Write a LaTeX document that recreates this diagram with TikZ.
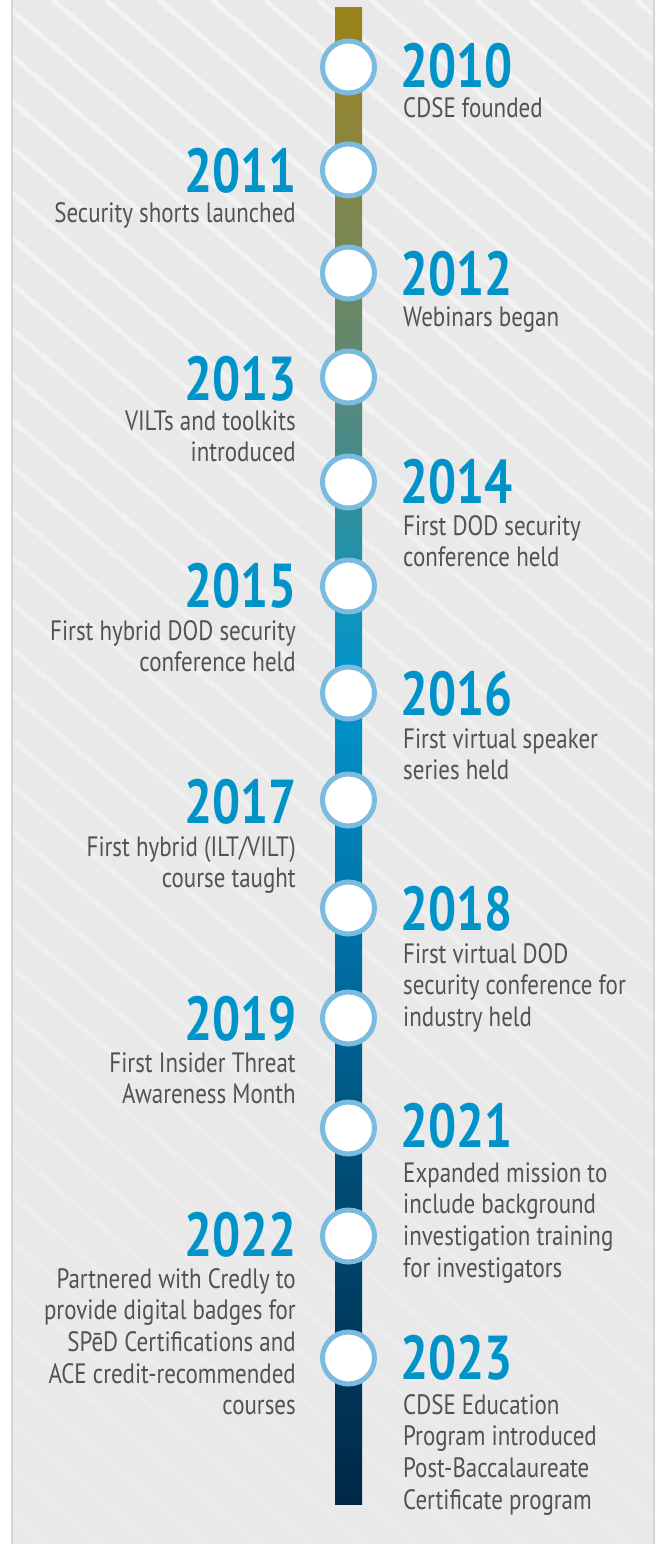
\documentclass[tikz,border=0pt]{standalone}
\usepackage{fontspec}
\setmainfont{PT Sans}[FakeStretch=0.82]
\newfontfamily\yearfont{PT Sans}[FakeStretch=0.8]
\usetikzlibrary{fadings}
\definecolor{panelbg}{RGB}{233,233,233}
\definecolor{paneledge}{RGB}{214,214,214}
\definecolor{ring}{RGB}{124,187,224}
\definecolor{yearblue}{RGB}{0,147,201}
\definecolor{desctext}{RGB}{82,82,84}
\definecolor{bA}{RGB}{154,132,24}
\definecolor{bB}{RGB}{138,134,66}
\definecolor{bC}{RGB}{88,136,122}
\definecolor{bD}{RGB}{35,145,168}
\definecolor{bE}{RGB}{0,150,204}
\definecolor{bF}{RGB}{0,118,172}
\definecolor{bG}{RGB}{0,78,120}
\definecolor{bH}{RGB}{0,40,70}
\pgfdeclareverticalshading{barshade}{100bp}{color(0bp)=(bH); color(25bp)=(bH); color(36.5bp)=(bG); color(45bp)=(bF); color(52.5bp)=(bE); color(57bp)=(bD); color(62bp)=(bC); color(70bp)=(bB); color(75bp)=(bA); color(100bp)=(bA)}
\tikzfading[name=stripefade, top color=transparent!100, bottom color=transparent!20]
\tikzset{
  dot/.style={circle, draw=ring, line width=5pt, fill=white, minimum size=52pt, inner sep=0pt},
  yearR/.style={anchor=base west, inner sep=0pt, text=yearblue, font=\yearfont\fontsize{62}{62}\selectfont\bfseries},
  yearL/.style={anchor=base east, inner sep=0pt, text=yearblue, font=\yearfont\fontsize{62}{62}\selectfont\bfseries},
  descR/.style={anchor=base west, inner sep=0pt, text=desctext, align=left, font=\fontsize{28}{31.7}\selectfont},
  descL/.style={anchor=base east, inner sep=0pt, text=desctext, align=right, font=\fontsize{28}{31.7}\selectfont},
  stripe/.style={white, opacity=0.5, line width=5pt}
}
\begin{document}
\begin{tikzpicture}[x=1pt,y=1pt]
\useasboundingbox (0,0) rectangle (657,-1544);
\fill[white] (0,0) rectangle (657,-1544);
\fill[panelbg] (11,0) rectangle (655,-1544);
\begin{scope}
  \clip (11,0) rectangle (655,-1544);
  \foreach \i in {-36,...,14} { \draw[stripe] (\i*53,0) -- ++(1800,-1548); }
\end{scope}
\fill[panelbg, path fading=stripefade] (11,0) rectangle (655,-1544);
\draw[paneledge, line width=2pt] (12,0) -- (12,-1544);
\draw[paneledge, line width=2pt] (654,0) -- (654,-1544);
% bar
\coordinate (bartop) at (335,-8);
\coordinate (barbot) at (362,-1504);
\shade[shading=barshade] (bartop) rectangle (barbot);
% events (description nodes: base = baseline of the last line)
\node[dot] (c2010) at (348.5,-67) {};
\node[yearR] (y2010) at (400,-88) {2010};
\node[descR] (d2010) at (403,-118) {CDSE founded};

\node[dot] (c2011) at (348.5,-170) {};
\node[yearL] (y2011) at (297,-192) {2011};
\node[descL] (d2011) at (296,-222) {Security shorts launched};

\node[dot] (c2012) at (348.5,-273) {};
\node[yearR] (y2012) at (400,-295) {2012};
\node[descR] (d2012) at (403,-326) {Webinars began};

\node[dot] (c2013) at (348.5,-377) {};
\node[yearL] (y2013) at (297,-400) {2013};
\node[descL] (d2013) at (296,-461.7) {VILTs and toolkits\\introduced};

\node[dot] (c2014) at (348.5,-482) {};
\node[yearR] (y2014) at (400,-503) {2014};
\node[descR] (d2014) at (403,-566.7) {First DOD security\\conference held};

\node[dot] (c2015) at (348.5,-586) {};
\node[yearL] (y2015) at (297,-607) {2015};
\node[descL] (d2015) at (296,-671.7) {First hybrid DOD security\\conference held};

\node[dot] (c2016) at (348.5,-693) {};
\node[yearR] (y2016) at (400,-715) {2016};
\node[descR] (d2016) at (403,-779.7) {First virtual speaker\\series held};

\node[dot] (c2017) at (348.5,-800) {};
\node[yearL] (y2017) at (297,-823) {2017};
\node[descL] (d2017) at (296,-887.7) {First hybrid (ILT/VILT)\\course taught};

\node[dot] (c2018) at (348.5,-908) {};
\node[yearR] (y2018) at (400,-930) {2018};
\node[descR] (d2018) at (403,-1026.4) {First virtual DOD\\security conference for\\industry held};

\node[dot] (c2019) at (348.5,-1018) {};
\node[yearL] (y2019) at (297,-1040) {2019};
\node[descL] (d2019) at (296,-1103.7) {First Insider Threat\\Awareness Month};

\node[dot] (c2021) at (348.5,-1128) {};
\node[yearR] (y2021) at (400,-1147) {2021};
\node[descR] (d2021) at (403,-1277.1) {Expanded mission to\\include background\\investigation training\\for investigators};

\node[dot] (c2022) at (348.5,-1236) {};
\node[yearL] (y2022) at (297,-1256) {2022};
\node[descL] (d2022) at (296,-1414.8) {Partnered with Credly to\\provide digital badges for\\SPēD Certifications and\\ACE credit-recommended\\courses};

\node[dot] (c2023) at (348.5,-1358) {};
\node[yearR] (y2023) at (400,-1379) {2023};
\node[descR] (d2023) at (403,-1509.1) {CDSE Education\\Program introduced\\Post-Baccalaureate\\Certificate program};
\end{tikzpicture}
\end{document}
